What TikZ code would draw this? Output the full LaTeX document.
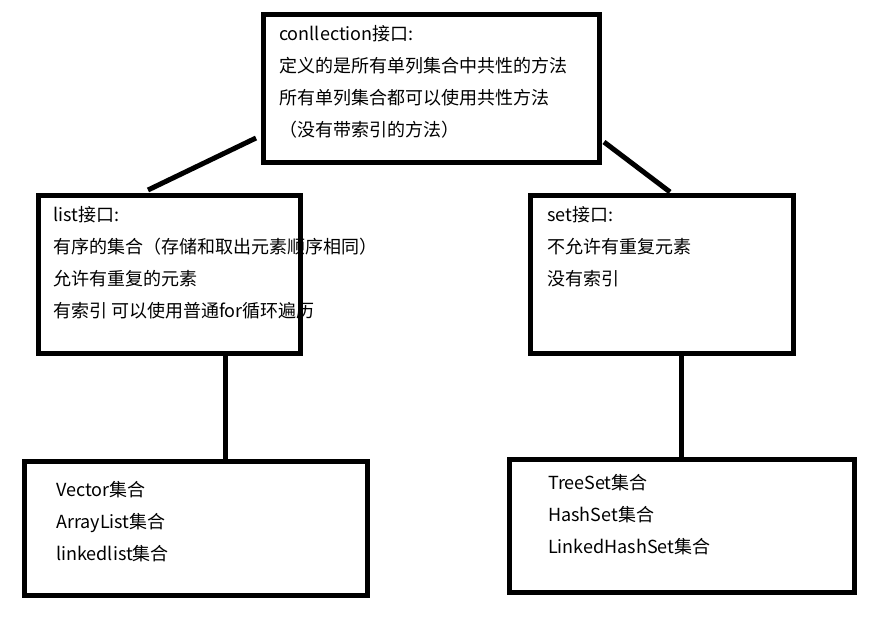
\documentclass[tikz,border=0pt]{standalone}
\usepackage{fontspec}
\usepackage{tikz}
\newfontfamily\cjk{Noto Sans CJK SC}

\begin{document}
\begin{tikzpicture}[x=1pt, y=-1pt,
    box/.style={draw, line width=5pt, anchor=north west, inner sep=0pt},
    txt/.style={anchor=north west, inner sep=0pt, align=left,
                font=\cjk\fontsize{18pt}{32pt}\selectfont},
    link/.style={line width=5pt}]
    \useasboundingbox (0,0) rectangle (889,622);

    % Interface boxes
    \node[box, minimum width=336pt, minimum height=148pt] (coll) at (261,12) {};
    \node[box, minimum width=262pt, minimum height=158pt] (list) at (36,193) {};
    \node[box, minimum width=263pt, minimum height=158pt] (set) at (528,193) {};

    % Implementation boxes
    \node[box, minimum width=343pt, minimum height=134pt] (vec) at (22,459) {};
    \node[box, minimum width=345pt, minimum height=133pt] (tree) at (507,457) {};

    % Texts
    \node[txt] (colltxt) at ([shift={(18,13)}]coll.north west)
        {conllection接口:\\定义的是所有单列集合中共性的方法\\所有单列集合都可以使用共性方法\\（没有带索引的方法）};
    \node[txt] (listtxt) at ([shift={(17,13)}]list.north west)
        {list接口:\\有序的集合（存储和取出元素顺序相同）\\允许有重复的元素\\有索引 可以使用普通for循环遍历};
    \node[txt] (settxt) at ([shift={(19,13)}]set.north west)
        {set接口:\\不允许有重复元素\\没有索引};
    \node[txt] (vectxt) at ([shift={(34,22)}]vec.north west)
        {Vector集合\\ArrayList集合\\linkedlist集合};
    \node[txt] (treetxt) at ([shift={(41,17)}]tree.north west)
        {TreeSet集合\\HashSet集合\\LinkedHashSet集合};

    % Connectors
    \draw[link] ([shift={(-5,-27)}]coll.south west) -- ([shift={(112,-3)}]list.north west);
    \draw[link] ([shift={(2,-23)}]coll.south east) -- ([shift={(-126,-1)}]set.north east);
    \draw[link] ([xshift=189pt]list.south west) -- ([xshift=203pt]vec.north west);
    \draw[link] ([xshift=153pt]set.south west) -- ([xshift=174pt]tree.north west);
\end{tikzpicture}
\end{document}
